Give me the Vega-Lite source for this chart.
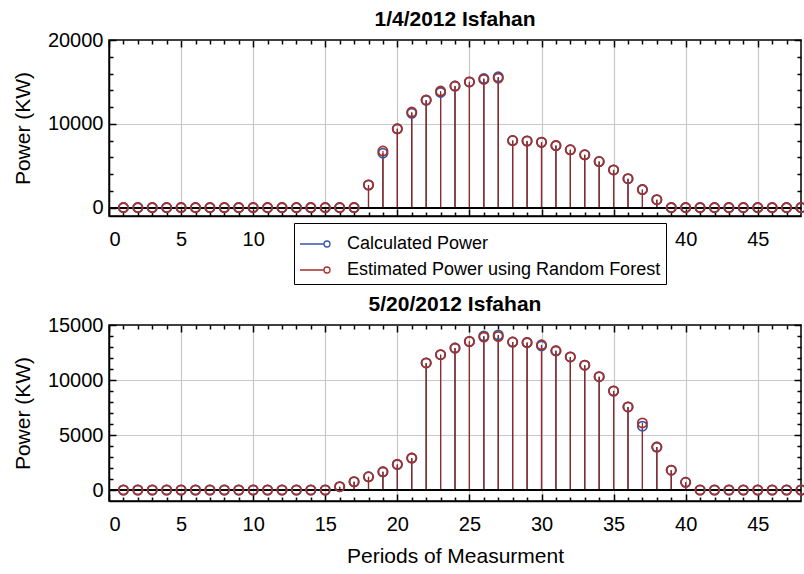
{
  "$schema": "https://vega.github.io/schema/vega-lite/v6.json",
  "background": "white",
  "padding": {"left": 11, "top": 8, "right": 5, "bottom": 5},
  "bounds": "flush",
  "spacing": 109,
  "datasets": {
    "top": [
      {"t":1,"calc":0,"est":0},{"t":2,"calc":0,"est":0},{"t":3,"calc":0,"est":0},{"t":4,"calc":0,"est":0},
      {"t":5,"calc":0,"est":0},{"t":6,"calc":0,"est":0},{"t":7,"calc":0,"est":0},{"t":8,"calc":0,"est":0},
      {"t":9,"calc":0,"est":0},{"t":10,"calc":0,"est":0},{"t":11,"calc":0,"est":0},{"t":12,"calc":0,"est":0},
      {"t":13,"calc":0,"est":0},{"t":14,"calc":0,"est":0},{"t":15,"calc":0,"est":0},{"t":16,"calc":0,"est":0},
      {"t":17,"calc":0,"est":0},{"t":18,"calc":2700,"est":2700},{"t":19,"calc":6500,"est":6750},{"t":20,"calc":9400,"est":9400},
      {"t":21,"calc":11250,"est":11400},{"t":22,"calc":12800,"est":12850},{"t":23,"calc":13750,"est":13900},{"t":24,"calc":14500,"est":14500},
      {"t":25,"calc":15000,"est":15000},{"t":26,"calc":15400,"est":15300},{"t":27,"calc":15600,"est":15450},{"t":28,"calc":8000,"est":8000},
      {"t":29,"calc":7950,"est":7950},{"t":30,"calc":7800,"est":7800},{"t":31,"calc":7400,"est":7400},{"t":32,"calc":6900,"est":6900},
      {"t":33,"calc":6300,"est":6300},{"t":34,"calc":5500,"est":5500},{"t":35,"calc":4500,"est":4500},{"t":36,"calc":3450,"est":3450},
      {"t":37,"calc":2150,"est":2150},{"t":38,"calc":950,"est":950},{"t":39,"calc":0,"est":0},{"t":40,"calc":0,"est":0},
      {"t":41,"calc":0,"est":0},{"t":42,"calc":0,"est":0},{"t":43,"calc":0,"est":0},{"t":44,"calc":0,"est":0},
      {"t":45,"calc":0,"est":0},{"t":46,"calc":0,"est":0},{"t":47,"calc":0,"est":0},{"t":48,"calc":0,"est":0}
    ],
    "bottom": [
      {"t":1,"calc":0,"est":0},{"t":2,"calc":0,"est":0},{"t":3,"calc":0,"est":0},{"t":4,"calc":0,"est":0},
      {"t":5,"calc":0,"est":0},{"t":6,"calc":0,"est":0},{"t":7,"calc":0,"est":0},{"t":8,"calc":0,"est":0},
      {"t":9,"calc":0,"est":0},{"t":10,"calc":0,"est":0},{"t":11,"calc":0,"est":0},{"t":12,"calc":0,"est":0},
      {"t":13,"calc":0,"est":0},{"t":14,"calc":0,"est":0},{"t":15,"calc":0,"est":0},{"t":16,"calc":300,"est":300},
      {"t":17,"calc":750,"est":750},{"t":18,"calc":1200,"est":1200},{"t":19,"calc":1650,"est":1650},{"t":20,"calc":2300,"est":2350},
      {"t":21,"calc":2900,"est":2900},{"t":22,"calc":11550,"est":11550},{"t":23,"calc":12300,"est":12300},{"t":24,"calc":12900,"est":12900},
      {"t":25,"calc":13500,"est":13500},{"t":26,"calc":14000,"est":13900},{"t":27,"calc":14100,"est":13950},{"t":28,"calc":13450,"est":13450},
      {"t":29,"calc":13400,"est":13400},{"t":30,"calc":13100,"est":13200},{"t":31,"calc":12650,"est":12650},{"t":32,"calc":12100,"est":12100},
      {"t":33,"calc":11350,"est":11350},{"t":34,"calc":10300,"est":10300},{"t":35,"calc":9000,"est":9000},{"t":36,"calc":7550,"est":7550},
      {"t":37,"calc":5800,"est":6100},{"t":38,"calc":3900,"est":3900},{"t":39,"calc":1800,"est":1800},{"t":40,"calc":700,"est":700},
      {"t":41,"calc":0,"est":0},{"t":42,"calc":0,"est":0},{"t":43,"calc":0,"est":0},{"t":44,"calc":0,"est":0},
      {"t":45,"calc":0,"est":0},{"t":46,"calc":0,"est":0},{"t":47,"calc":0,"est":0},{"t":48,"calc":0,"est":0}
    ]
  },
  "resolve": {"scale": {"stroke": "independent"}, "legend": {"stroke": "independent"}},
  "vconcat": [
    {
      "title": {"text": "1/4/2012 Isfahan", "fontSize": 21, "fontWeight": "bold", "offset": 0, "anchor": "middle", "frame": "group", "color": "black"},
      "width": 692,
      "height": 176,
      "data": {"name": "top"},
      "transform": [{"fold": ["calc", "est"], "as": ["series", "v"]}],
      "resolve": {"axis": {"x": "independent", "y": "independent"}},
      "layer": [
        {
          "transform": [{"filter": "datum.series === 'calc'"}],
          "mark": {"type": "rule", "color": "#1b1b2a", "strokeWidth": 1.2},
          "encoding": {
            "x": {"field": "t", "type": "quantitative", "scale": {"domain": [0, 48], "nice": false},
              "axis": {"orient": "bottom", "title": null, "values": [0,5,10,15,20,25,30,35,40,45],
                "tickSize": -7, "grid": true, "gridColor": "#c8c8c8", "labelPadding": 20}},
            "y": {"field": "v", "type": "quantitative", "scale": {"domain": [-1000, 20000], "nice": false, "zero": false},
              "axis": {"orient": "left", "title": "Power (KW)", "format": "d",
                "values": [0,10000,20000], "tickSize": -7,
                "grid": true, "gridColor": {"condition": {"test": "datum.value === 10000", "value": "#c8c8c8"}, "value": "transparent"},
                "labelPadding": 13, "titlePadding": 14}},
            "y2": {"datum": 0}
          }
        },
        {
          "transform": [{"filter": "datum.series === 'est'"}],
          "mark": {"type": "rule", "color": "#96282a", "strokeWidth": 1.2},
          "encoding": {
            "x": {"field": "t", "type": "quantitative",
              "axis": {"orient": "top", "title": null, "labels": false, "grid": false, "domain": false,
                "values": [0,5,10,15,20,25,30,35,40,45], "tickSize": -7}},
            "y": {"field": "v", "type": "quantitative",
              "axis": {"orient": "right", "title": null, "labels": false, "grid": false, "domain": false,
                "values": [0,10000,20000], "tickSize": -7}},
            "y2": {"datum": 0}
          }
        },
        {
          "mark": {"type": "rule", "color": "black", "strokeWidth": 1.3},
          "encoding": {"y": {"datum": 0, "type": "quantitative",
            "axis": {"orient": "left", "title": null, "labels": false, "grid": false, "domain": false,
              "values": [2000,4000,6000,8000,12000,14000,16000,18000], "tickSize": -4}}}
        },
        {
          "transform": [{"filter": "datum.series === 'calc'"}],
          "mark": {"type": "point", "shape": "circle", "filled": false, "size": 85, "strokeWidth": 1.8, "opacity": 1},
          "encoding": {
            "x": {"field": "t", "type": "quantitative",
              "axis": {"orient": "bottom", "title": null, "labels": false, "grid": false, "domain": false,
                "values": [1,2,3,4,6,7,8,9,11,12,13,14,16,17,18,19,21,22,23,24,26,27,28,29,31,32,33,34,36,37,38,39,41,42,43,44,46,47], "tickSize": -4}},
            "y": {"field": "v", "type": "quantitative",
              "axis": {"orient": "right", "title": null, "labels": false, "grid": false, "domain": false,
                "values": [2000,4000,6000,8000,12000,14000,16000,18000], "tickSize": -4}},
            "stroke": {"field": "series", "type": "nominal",
              "scale": {"domain": ["calc", "est"], "range": ["#3656a6", "#a3302a"]},
              "legend": {"orient": "none", "legendX": 185, "legendY": 183, "title": null,
                "labelExpr": "datum.value === 'calc' ? 'Calculated Power' : 'Estimated Power using Random Forest'",
                "symbolType": "M-1,0L0.6,0M1,0A0.2,0.2,0,1,1,0.6,0A0.2,0.2,0,1,1,1,0",
                "symbolSize": 900, "symbolStrokeWidth": 1.3, "symbolFillColor": "transparent",
                "labelFontSize": 18, "labelLimit": 0, "labelColor": "black", "labelOffset": 16,
                "fillColor": "white", "strokeColor": "black", "padding": 5, "rowPadding": 1}}
          }
        },
        {
          "transform": [{"filter": "datum.series === 'est'"}],
          "mark": {"type": "point", "shape": "circle", "filled": false, "size": 85, "strokeWidth": 1.8, "opacity": 1},
          "encoding": {
            "x": {"field": "t", "type": "quantitative",
              "axis": {"orient": "top", "title": null, "labels": false, "grid": false, "domain": false,
                "values": [1,2,3,4,6,7,8,9,11,12,13,14,16,17,18,19,21,22,23,24,26,27,28,29,31,32,33,34,36,37,38,39,41,42,43,44,46,47], "tickSize": -4}},
            "y": {"field": "v", "type": "quantitative", "axis": null},
            "stroke": {"field": "series", "type": "nominal"}
          }
        }
      ]
    },
    {
      "title": {"text": "5/20/2012 Isfahan", "fontSize": 21, "fontWeight": "bold", "offset": 0, "anchor": "middle", "frame": "group", "color": "black"},
      "width": 692,
      "height": 176,
      "data": {"name": "bottom"},
      "transform": [{"fold": ["calc", "est"], "as": ["series", "v"]}],
      "resolve": {"axis": {"x": "independent", "y": "independent"}},
      "layer": [
        {
          "transform": [{"filter": "datum.series === 'calc'"}],
          "mark": {"type": "rule", "color": "#1b1b2a", "strokeWidth": 1.2},
          "encoding": {
            "x": {"field": "t", "type": "quantitative", "scale": {"domain": [0, 48], "nice": false},
              "axis": {"orient": "bottom", "title": "Periods of Measurment", "values": [0,5,10,15,20,25,30,35,40,45],
                "tickSize": -7, "grid": true, "gridColor": "#c8c8c8", "labelPadding": 20, "titlePadding": 11}},
            "y": {"field": "v", "type": "quantitative", "scale": {"domain": [-1000, 15000], "nice": false, "zero": false},
              "axis": {"orient": "left", "title": "Power (KW)", "format": "d",
                "values": [0,5000,10000,15000], "tickSize": -7,
                "grid": true, "gridColor": {"condition": {"test": "datum.value === 5000 || datum.value === 10000", "value": "#c8c8c8"}, "value": "transparent"},
                "labelPadding": 13, "titlePadding": 14}},
            "y2": {"datum": 0}
          }
        },
        {
          "transform": [{"filter": "datum.series === 'est'"}],
          "mark": {"type": "rule", "color": "#96282a", "strokeWidth": 1.2},
          "encoding": {
            "x": {"field": "t", "type": "quantitative",
              "axis": {"orient": "top", "title": null, "labels": false, "grid": false, "domain": false,
                "values": [0,5,10,15,20,25,30,35,40,45], "tickSize": -7}},
            "y": {"field": "v", "type": "quantitative",
              "axis": {"orient": "right", "title": null, "labels": false, "grid": false, "domain": false,
                "values": [0,5000,10000,15000], "tickSize": -7}},
            "y2": {"datum": 0}
          }
        },
        {
          "mark": {"type": "rule", "color": "black", "strokeWidth": 1.3},
          "encoding": {"y": {"datum": 0, "type": "quantitative",
            "axis": {"orient": "left", "title": null, "labels": false, "grid": false, "domain": false,
              "values": [1000,2000,3000,4000,6000,7000,8000,9000,11000,12000,13000,14000], "tickSize": -4}}}
        },
        {
          "transform": [{"filter": "datum.series === 'calc'"}],
          "mark": {"type": "point", "shape": "circle", "filled": false, "size": 85, "strokeWidth": 1.8, "opacity": 1},
          "encoding": {
            "x": {"field": "t", "type": "quantitative",
              "axis": {"orient": "bottom", "title": null, "labels": false, "grid": false, "domain": false,
                "values": [1,2,3,4,6,7,8,9,11,12,13,14,16,17,18,19,21,22,23,24,26,27,28,29,31,32,33,34,36,37,38,39,41,42,43,44,46,47], "tickSize": -4}},
            "y": {"field": "v", "type": "quantitative",
              "axis": {"orient": "right", "title": null, "labels": false, "grid": false, "domain": false,
                "values": [1000,2000,3000,4000,6000,7000,8000,9000,11000,12000,13000,14000], "tickSize": -4}},
            "stroke": {"field": "series", "type": "nominal",
              "scale": {"domain": ["calc", "est"], "range": ["#3656a6", "#a3302a"]}, "legend": null}
          }
        },
        {
          "transform": [{"filter": "datum.series === 'est'"}],
          "mark": {"type": "point", "shape": "circle", "filled": false, "size": 85, "strokeWidth": 1.8, "opacity": 1},
          "encoding": {
            "x": {"field": "t", "type": "quantitative",
              "axis": {"orient": "top", "title": null, "labels": false, "grid": false, "domain": false,
                "values": [1,2,3,4,6,7,8,9,11,12,13,14,16,17,18,19,21,22,23,24,26,27,28,29,31,32,33,34,36,37,38,39,41,42,43,44,46,47], "tickSize": -4}},
            "y": {"field": "v", "type": "quantitative", "axis": null},
            "stroke": {"field": "series", "type": "nominal", "legend": null}
          }
        }
      ]
    }
  ],
  "config": {
    "font": "Liberation Sans",
    "view": {"stroke": "black", "strokeWidth": 1.5},
    "axis": {
      "labelFontSize": 20, "labelColor": "black", "labelFont": "Liberation Sans",
      "titleFontSize": 21, "titleFontWeight": "normal", "titleColor": "black", "titleFont": "Liberation Sans",
      "domainColor": "black", "domainWidth": 1.5, "tickColor": "black", "tickWidth": 1.5,
      "gridWidth": 1.2
    }
  }
}
